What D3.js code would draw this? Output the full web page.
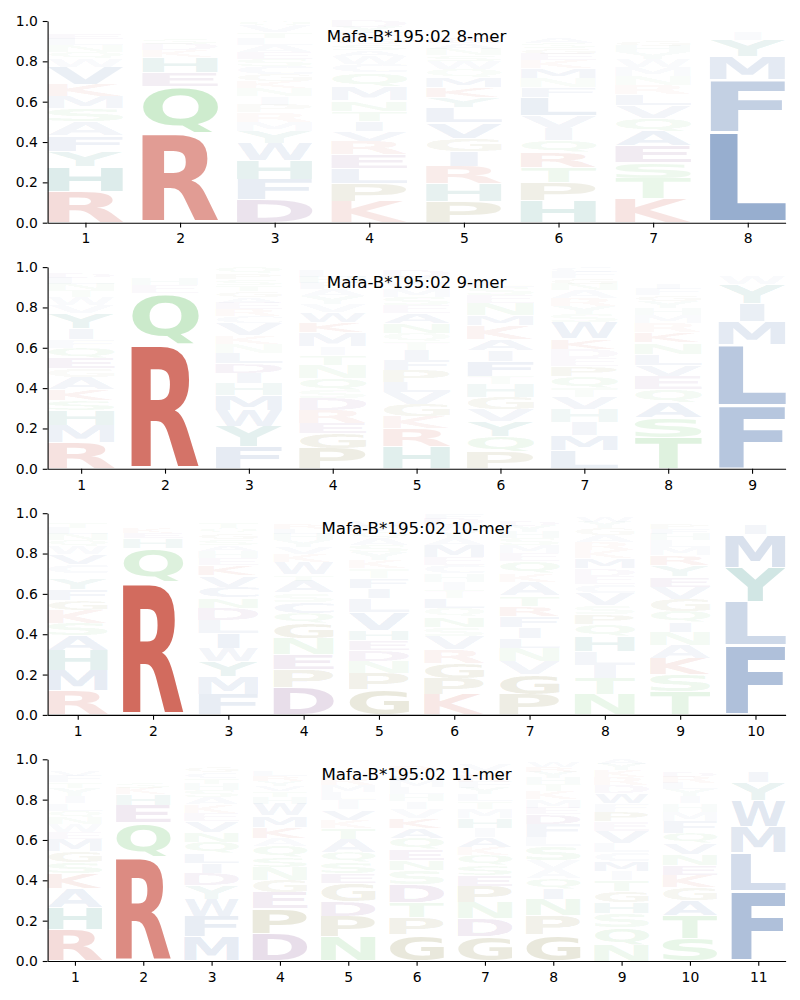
<!DOCTYPE html>
<html><head><meta charset="utf-8">
<script src="https://cdn.jsdelivr.net/npm/d3@7"></script>
<style>body{margin:0;background:#fff}svg{display:block}</style>
</head><body><div id="chart"></div>
<script>
// ---------------- data ----------------
const titles = ["Mafa-B*195:02 8-mer","Mafa-B*195:02 9-mer","Mafa-B*195:02 10-mer","Mafa-B*195:02 11-mer"];
const yTicks = [0,0.2,0.4,0.6,0.8,1.0];
// each position: letters listed bottom -> top with frequency
const logo8 = [
 "R:.155 H:.125 Y:.075 F:.075 A:.07 S:.065 M:.06 K:.058 V:.09 W:.04 Q:.035 N:.03 L:.03 E:.025 G:.02 T:.02 I:.015 P:.012",
 "R:.44 Q:.235 E:.07 H:.075 K:.035 D:.03 S:.025 N:.02 T:.015 A:.015 G:.012 Y:.01 M:.01 L:.008",
 "D:.115 F:.1 H:.095 W:.085 Y:.06 M:.045 R:.045 P:.04 I:.04 N:.04 K:.035 G:.035 C:.04 S:.035 E:.035 A:.035 L:.035 T:.03 V:.03 Q:.025",
 "K:.105 P:.09 L:.075 E:.07 R:.065 V:.05 I:.05 T:.05 N:.05 M:.07 Q:.07 C:.04 W:.04 A:.03 S:.03 G:.025 F:.03 Y:.03 D:.03",
 "P:.105 H:.09 R:.085 I:.075 G:.065 V:.075 L:.075 Y:.05 K:.05 M:.05 Q:.04 W:.04 S:.03 N:.03 A:.03 E:.025 D:.02 T:.02 F:.02 C:.015",
 "H:.11 P:.09 T:.075 R:.075 Q:.06 I:.06 V:.06 L:.09 F:.05 N:.045 M:.05 K:.04 E:.03 G:.03 S:.025 A:.025 W:.02 Y:.02 D:.02 C:.015",
 "K:.12 T:.1 S:.08 E:.08 A:.075 Q:.065 V:.06 L:.055 R:.045 N:.045 M:.045 W:.04 Y:.035 H:.03 G:.025 D:.02 F:.02 P:.02 C:.015 I:.015",
 "L:.45 F:.26 M:.115 Y:.08 I:.04 V:.02 W:.015 A:.01 T:.01"
];
const logo9 = [
 "R:.13 M:.085 H:.075 S:.05 K:.055 A:.06 G:.045 E:.05 Q:.05 F:.04 I:.055 Y:.075 V:.04 W:.04 T:.035 N:.03 L:.03 D:.025 P:.02 C:.01",
 "R:.62 Q:.25 E:.04 H:.03 K:.02 S:.015 N:.01 D:.01 T:.005",
 "F:.11 Y:.1 W:.08 M:.075 H:.06 I:.05 D:.05 L:.05 N:.045 K:.04 V:.06 C:.035 R:.035 E:.03 A:.03 G:.03 T:.03 S:.03 P:.03 Q:.03",
 "P:.1 G:.075 E:.05 R:.065 D:.06 S:.04 Q:.06 N:.065 T:.05 I:.04 M:.07 K:.05 W:.05 V:.04 Y:.04 A:.035 F:.03 H:.03 L:.03 C:.02",
 "H:.11 R:.09 K:.06 G:.06 V:.06 L:.05 P:.06 F:.05 I:.05 T:.04 Q:.04 N:.05 A:.05 E:.04 S:.04 M:.04 W:.03 Y:.03 D:.03 C:.02",
 "P:.085 Q:.075 Y:.075 V:.06 G:.06 H:.065 T:.04 F:.075 I:.05 A:.055 K:.07 M:.05 N:.06 E:.04 S:.04 L:.04 W:.02 R:.015 D:.01 C:.01",
 "L:.09 M:.075 I:.065 H:.065 V:.06 T:.045 Q:.06 P:.05 E:.04 D:.045 K:.05 W:.08 S:.04 Y:.04 R:.04 A:.04 N:.03 G:.03 F:.03 C:.025",
 "T:.155 S:.1 A:.075 Q:.065 E:.065 V:.055 L:.055 N:.055 K:.05 R:.045 M:.04 H:.035 Y:.035 G:.03 F:.03 I:.025 W:.02 P:.02 D:.02 C:.015",
 "F:.315 L:.3 M:.115 I:.09 Y:.095 W:.04 V:.015 A:.01 T:.01 H:.01"
];
const logo10 = [
 "R:.12 M:.1 H:.1 A:.075 S:.06 K:.065 G:.05 F:.055 Y:.055 E:.02 C:.045 V:.05 W:.04 Q:.03 N:.03 L:.03 T:.025 P:.02 D:.02 I:.01",
 "R:.66 Q:.165 H:.05 E:.025 K:.025 S:.02 N:.015 D:.015 T:.01 A:.01 G:.005",
 "F:.1 M:.09 Y:.075 W:.065 I:.075 L:.065 D:.06 N:.05 C:.055 V:.055 K:.05 E:.035 H:.035 A:.03 S:.03 G:.03 Q:.025 T:.025 P:.02 R:.02",
 "D:.135 P:.09 E:.075 N:.08 G:.075 Q:.05 C:.055 S:.045 A:.06 T:.03 W:.06 K:.04 V:.035 Y:.035 H:.03 L:.025 R:.025 M:.02 F:.02 I:.015",
 "G:.125 P:.08 N:.06 D:.055 E:.05 H:.05 V:.09 L:.07 I:.05 F:.05 T:.045 K:.04 Y:.04 S:.035 A:.035 Q:.03 M:.03 W:.025 R:.02 C:.01",
 "K:.1 P:.08 G:.075 R:.07 V:.065 S:.045 N:.05 Q:.045 L:.05 T:.04 I:.04 H:.04 C:.04 E:.04 M:.06 A:.035 Y:.035 W:.03 D:.03 F:.025",
 "P:.1 G:.1 V:.065 N:.065 L:.05 I:.055 F:.055 R:.05 T:.05 A:.07 K:.04 Q:.06 E:.04 M:.04 S:.035 H:.03 Y:.03 D:.025 W:.02 C:.015",
 "N:.1 T:.08 I:.065 L:.07 H:.075 Q:.06 P:.05 S:.045 V:.06 C:.045 E:.04 D:.035 M:.05 K:.04 R:.04 A:.035 G:.035 Y:.03 W:.025 F:.02",
 "T:.115 S:.085 K:.08 A:.065 N:.065 I:.05 Q:.055 G:.06 V:.06 E:.05 Y:.055 R:.05 M:.04 L:.035 H:.03 F:.025 P:.025 D:.02 W:.02 C:.015",
 "F:.345 L:.215 Y:.17 M:.165 I:.05 W:.02 V:.015 A:.01 H:.01"
];
const logo11 = [
 "R:.155 H:.11 A:.095 K:.075 S:.055 G:.055 M:.06 E:.035 W:.04 N:.035 Q:.03 L:.035 I:.035 Y:.04 T:.03 F:.03 V:.025 D:.02 P:.02 C:.015",
 "R:.515 Q:.17 E:.085 H:.055 K:.03 S:.025 N:.02 D:.02 A:.015 T:.015 G:.01 Y:.01 L:.01 F:.01 M:.005",
 "M:.12 F:.1 W:.085 Y:.07 D:.06 I:.05 L:.05 Q:.055 N:.05 V:.055 E:.04 K:.04 A:.035 S:.035 H:.03 T:.03 C:.03 G:.025 R:.02 P:.02",
 "D:.135 P:.125 E:.08 G:.06 N:.065 S:.05 Q:.055 A:.04 K:.055 M:.055 W:.06 H:.03 T:.03 V:.025 Y:.025 R:.025 L:.025 F:.02 I:.02 C:.015",
 "N:.12 P:.1 D:.075 G:.09 E:.05 S:.055 Q:.05 A:.065 T:.055 K:.04 V:.05 I:.045 L:.04 M:.035 R:.03 F:.025 Y:.02 W:.02 H:.015 C:.01",
 "G:.13 P:.085 T:.075 D:.09 S:.07 N:.05 E:.055 Q:.055 A:.05 K:.05 V:.045 I:.035 H:.035 L:.035 M:.03 F:.025 Y:.025 R:.025 W:.02 C:.01",
 "G:.12 D:.09 N:.08 P:.08 E:.055 S:.05 Q:.05 K:.04 A:.05 I:.045 H:.05 M:.045 T:.035 L:.035 Y:.03 F:.03 R:.03 W:.025 V:.03 C:.015",
 "G:.13 P:.095 N:.08 I:.055 Q:.05 A:.045 V:.045 S:.07 L:.045 F:.065 D:.05 E:.03 M:.04 K:.04 T:.035 H:.03 Y:.03 R:.025 W:.025 C:.015",
 "N:.08 Q:.085 S:.07 H:.055 G:.055 T:.055 I:.045 M:.05 C:.045 L:.045 V:.06 E:.045 P:.05 F:.04 W:.05 D:.04 R:.04 K:.035 Y:.03 A:.025",
 "S:.11 T:.115 A:.075 G:.065 K:.06 E:.05 N:.055 V:.055 Q:.05 F:.06 M:.045 H:.04 I:.035 Y:.035 L:.03 R:.03 D:.025 W:.02 P:.02 C:.015",
 "F:.345 L:.19 M:.13 W:.13 Y:.09 I:.055 V:.02 A:.015 T:.01 H:.01 C:.005"
];
const logos = [logo8, logo9, logo10, logo11];

// colour groups
const letterGroup = {R:"red",K:"red",H:"teal",Y:"teal",D:"purple",E:"purple",P:"olive",G:"olive",
  Q:"green",N:"green",S:"green",T:"green",A:"blue",V:"blue",L:"blue",I:"blue",M:"blue",F:"blue",W:"blue",C:"blue"};
const groupColor = {red:"rgb(200,75,60)",blue:"rgb(70,110,170)",teal:"rgb(40,136,126)",
  purple:"rgb(120,60,130)",olive:"rgb(120,115,40)",green:"rgb(90,189,90)"};

// ---------------- layout ----------------
const W = 800, H = 1000;
const left = 47.6, right = 785.6, panelH = 201.7, top0 = 21, step = 246.1;
const vpad = 0.05;
const FONT = "'DejaVu Sans', 'Liberation Sans', sans-serif";

const svg = d3.select("#chart").append("svg").attr("width", W).attr("height", H);

// ink metrics of glyphs
const ctx = document.createElement("canvas").getContext("2d");
ctx.font = "bold 100px 'DejaVu Sans'";
const inkCache = {};
function ink(c){
  if(!inkCache[c]){
    const m = ctx.measureText(c);
    inkCache[c] = {l:m.actualBoundingBoxLeft, r:m.actualBoundingBoxRight, a:m.actualBoundingBoxAscent, d:m.actualBoundingBoxDescent};
  }
  return inkCache[c];
}
const eInk = ink("E");
const eW = eInk.l + eInk.r;

function parse(s){
  let cum = 0;
  return s.trim().split(/\s+/).map(t => {
    const [c, v] = t.split(":");
    const d = {c, v:+v, y0:cum};
    cum += +v; d.y1 = cum;
    return d;
  });
}

logos.forEach((logo, pi) => {
  const n = logo.length;
  const top = top0 + pi*step;
  const x = d3.scaleLinear().domain([0.6, n + 0.4]).range([left, right]);
  const y = d3.scaleLinear().domain([0, 1]).range([top + panelH, top]);
  const g = svg.append("g");
  const letterW = x(1.4) - x(0.6);

  logo.forEach((s, i) => {
    const pos = i + 1;
    const stack = parse(s);
    stack.forEach(d => {
      const m = ink(d.c);
      const slotTop = y(d.y1), slotBot = y(d.y0);
      const sh = slotBot - slotTop;
      const gh = sh*(1 - vpad);
      const gTop = slotTop + sh*vpad/2;
      const cw = m.l + m.r;
      const sx = Math.min(letterW/cw, letterW/eW);
      const inkW = cw*sx;
      const xs = x(pos - 0.4) + (letterW - inkW)/2;
      const sy = gh/(m.a + m.d);
      g.append("text")
        .attr("x", 0).attr("y", 0)
        .attr("transform", `translate(${xs + m.l*sx},${gTop + m.a*sy}) scale(${sx},${sy})`)
        .attr("font-family", FONT).attr("font-weight", "bold").attr("font-size", "100px")
        .attr("fill", groupColor[letterGroup[d.c]])
        .attr("fill-opacity", Math.min(1, 1.25*d.v))
        .text(d.c);
    });
  });

  // axes
  const ya = g.append("g").attr("transform", `translate(${left},0)`)
    .call(d3.axisLeft(y).tickValues(yTicks).tickFormat(d3.format(".1f")).tickSize(4.86).tickPadding(4.86).tickSizeOuter(0));
  const xa = g.append("g").attr("transform", `translate(0,${top + panelH})`)
    .call(d3.axisBottom(x).tickValues(d3.range(1, n + 1)).tickFormat(d3.format("d")).tickSize(4.86).tickPadding(6).tickSizeOuter(0));
  [ya, xa].forEach(a => {
    a.attr("font-family", FONT).attr("font-size", "13.9px");
    a.selectAll("text").attr("fill", "#000");
    a.selectAll("line").attr("stroke", "#000").attr("stroke-width", 1.1);
    a.select(".domain").attr("stroke", "#000").attr("stroke-width", 1.1);
  });

  // title
  g.append("text")
    .attr("x", (left + right)/2).attr("y", top + 21)
    .attr("text-anchor", "middle")
    .attr("font-family", FONT).attr("font-size", "16.67px").attr("fill", "#000")
    .text(titles[pi]);
});
</script>
</body></html>
